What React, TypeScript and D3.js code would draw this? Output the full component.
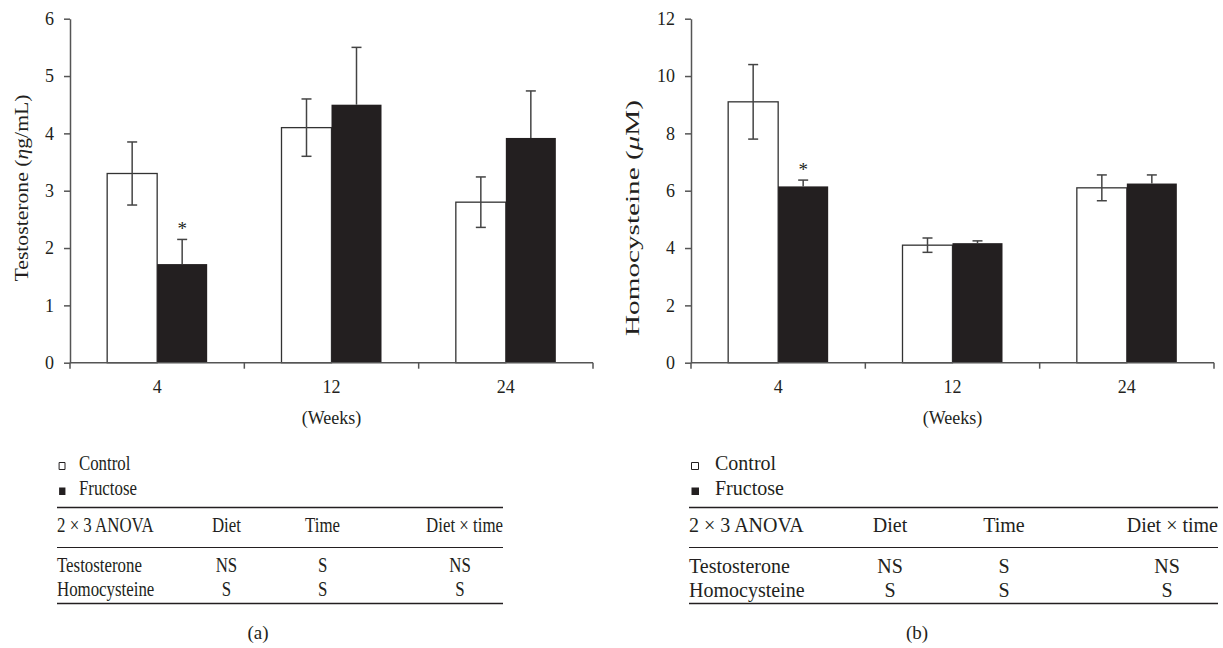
import React, { useEffect, useRef } from "react";
import * as d3 from "d3";

const weeks = ["4", "12", "24"];
const groups = ["Control", "Fructose"];

const testoControl = [3.3, 4.1, 2.8];
const testoControlSE = [0.55, 0.5, 0.44];
const testoFructose = [1.72, 4.5, 3.92];
const testoFructoseSE = [0.43, 1.0, 0.82];

const homoControl = [9.1, 4.1, 6.1];
const homoControlSE = [1.3, 0.25, 0.45];
const homoFructose = [6.15, 4.17, 6.25];
const homoFructoseSE = [0.22, 0.08, 0.3];

const testoTicks = [0, 1, 2, 3, 4, 5, 6];
const homoTicks = [0, 2, 4, 6, 8, 10, 12];

const tableHeader = ["2 × 3 ANOVA", "Diet", "Time", "Diet × time"];
const tableRows = [
  ["Testosterone", "NS", "S", "NS"],
  ["Homocysteine", "S", "S", "S"],
];

const FONT = "'Liberation Serif', 'Times New Roman', serif";
const INK = "#231f20";
const GREY = "#555";

function drawPanel(svg, opts) {
  const { x0, yMax, ticks, control, controlSE, fructose, fructoseSE, label, labelX, labelY, labelLen, tableX, tableScale, tag, tagX } = opts;
  const top = 18.7;
  const bottom = 362.7;
  const width = 523;

  const g = svg.append("g");
  const x = d3.scaleBand().domain(weeks).range([x0, x0 + width]);
  const bw = x.bandwidth();
  const x1 = d3.scaleBand().domain(groups).range([bw / 2 - 50, bw / 2 + 50]);
  const y = d3.scaleLinear().domain([0, yMax]).range([bottom, top]);

  const data = weeks.map((w, i) => ({
    w,
    vals: [
      { key: "Control", v: control[i], se: controlSE[i], up: false },
      { key: "Fructose", v: fructose[i], se: fructoseSE[i], up: true },
    ],
  }));

  const grp = g
    .selectAll("g.wk")
    .data(data)
    .enter()
    .append("g")
    .attr("transform", (d) => "translate(" + x(d.w) + ",0)");

  grp
    .selectAll("rect")
    .data((d) => d.vals)
    .enter()
    .append("rect")
    .attr("x", (d) => x1(d.key))
    .attr("width", x1.bandwidth())
    .attr("y", (d) => y(d.v))
    .attr("height", (d) => bottom - y(d.v))
    .attr("fill", (d) => (d.key === "Control" ? "#fff" : INK))
    .attr("stroke", (d) => (d.key === "Control" ? "#333" : "none"))
    .attr("stroke-width", 1.3);

  // error bars (fructose only upward)
  const mid = (d) => x1(d.key) + x1.bandwidth() / 2;
  const eb = grp
    .selectAll("g.err")
    .data((d) => d.vals)
    .enter()
    .append("g")
    .attr("stroke", "#444")
    .attr("stroke-width", 1.5);
  eb.append("line")
    .attr("x1", mid)
    .attr("x2", mid)
    .attr("y1", (d) => (d.up ? y(d.v) : y(d.v - d.se)))
    .attr("y2", (d) => y(d.v + d.se));
  eb.append("line")
    .attr("x1", (d) => mid(d) - 5)
    .attr("x2", (d) => mid(d) + 5)
    .attr("y1", (d) => y(d.v + d.se))
    .attr("y2", (d) => y(d.v + d.se));
  eb.filter((d) => !d.up)
    .append("line")
    .attr("x1", (d) => mid(d) - 5)
    .attr("x2", (d) => mid(d) + 5)
    .attr("y1", (d) => y(d.v - d.se))
    .attr("y2", (d) => y(d.v - d.se));

  // star over the week-4 fructose bar
  g.append("text")
    .attr("x", x(weeks[0]) + x1("Fructose") + x1.bandwidth() / 2)
    .attr("y", y(fructose[0] + fructoseSE[0]) - 4)
    .attr("text-anchor", "middle")
    .attr("font-family", FONT)
    .attr("font-size", 19)
    .attr("fill", INK)
    .text("*");

  // y axis
  const yAxis = g
    .append("g")
    .attr("transform", "translate(" + x0 + ",0)")
    .call(
      d3.axisLeft(y).tickValues(ticks).tickFormat(d3.format("d")).tickSize(6).tickSizeOuter(0).tickPadding(10)
    );
  yAxis.select(".domain").attr("stroke", GREY).attr("stroke-width", 1.5);
  yAxis.selectAll(".tick line").attr("stroke", GREY).attr("stroke-width", 1.5);
  yAxis.selectAll(".tick text").attr("font-family", FONT).attr("font-size", 18).attr("fill", INK);

  // x axis
  g.append("line")
    .attr("x1", x0)
    .attr("x2", x0 + width)
    .attr("y1", bottom)
    .attr("y2", bottom)
    .attr("stroke", GREY)
    .attr("stroke-width", 1.5);
  const bounds = weeks.map((w) => x(w)).concat([x0 + width]);
  g.selectAll("line.xt")
    .data(bounds)
    .enter()
    .append("line")
    .attr("x1", (d) => d)
    .attr("x2", (d) => d)
    .attr("y1", bottom)
    .attr("y2", bottom + 6)
    .attr("stroke", GREY)
    .attr("stroke-width", 1.5);
  g.selectAll("text.xl")
    .data(weeks)
    .enter()
    .append("text")
    .attr("x", (d) => x(d) + bw / 2)
    .attr("y", 393)
    .attr("text-anchor", "middle")
    .attr("font-family", FONT)
    .attr("font-size", 18)
    .attr("fill", INK)
    .text((d) => d);
  g.append("text")
    .attr("x", x0 + width / 2)
    .attr("y", 424)
    .attr("text-anchor", "middle")
    .attr("font-family", FONT)
    .attr("font-size", 18)
    .attr("fill", INK)
    .text("(Weeks)");

  // y label
  const yl = g
    .append("text")
    .attr("transform", "translate(" + labelX + "," + labelY + ") rotate(-90)")
    .attr("text-anchor", "middle")
    .attr("font-family", FONT)
    .attr("font-size", 19)
    .attr("textLength", labelLen)
    .attr("lengthAdjust", "spacingAndGlyphs")
    .attr("fill", INK);
  yl.append("tspan").text(label[0] + " (");
  yl.append("tspan").attr("font-style", "italic").text(label[1]);
  yl.append("tspan").text(label[2] + ")");

  // legend + ANOVA table, laid out at full width then squeezed by tableScale
  const t = g.append("g").attr("transform", "translate(" + tableX + ",0) scale(" + tableScale + ",1)");
  const tw = 529;
  t.append("rect")
    .attr("x", 2.5)
    .attr("y", 462.5)
    .attr("width", 7)
    .attr("height", 7)
    .attr("fill", "#fff")
    .attr("stroke", INK)
    .attr("stroke-width", 1)
    .attr("vector-effect", "non-scaling-stroke");
  t.append("rect").attr("x", 2.5).attr("y", 487.5).attr("width", 7.5).attr("height", 7.5).attr("fill", INK);
  t.selectAll("text.lg")
    .data(groups)
    .enter()
    .append("text")
    .attr("x", 26)
    .attr("y", (d, i) => 470 + i * 25)
    .attr("font-family", FONT)
    .attr("font-size", 20)
    .attr("fill", INK)
    .text((d) => d);

  [507.5, 547.5, 603.5].forEach((ly, i) => {
    t.append("line")
      .attr("x1", 0)
      .attr("x2", tw)
      .attr("y1", ly)
      .attr("y2", ly)
      .attr("stroke", INK)
      .attr("stroke-width", i === 1 ? 1.2 : 1.5);
  });
  const hx = [0, 201, 315, tw];
  const hAnchor = ["start", "middle", "middle", "end"];
  tableHeader.forEach((h, i) => {
    t.append("text")
      .attr("x", hx[i])
      .attr("y", 532)
      .attr("text-anchor", hAnchor[i])
      .attr("font-family", FONT)
      .attr("font-size", 20)
      .attr("fill", INK)
      .text(h);
  });
  const cx = [0, 201, 315, 478];
  tableRows.forEach((row, r) => {
    row.forEach((c, i) => {
      t.append("text")
        .attr("x", cx[i])
        .attr("y", 572.5 + r * 24)
        .attr("text-anchor", i === 0 ? "start" : "middle")
        .attr("font-family", FONT)
        .attr("font-size", 20)
        .attr("fill", INK)
        .text(c);
    });
  });

  g.append("text")
    .attr("x", tagX)
    .attr("y", 639)
    .attr("text-anchor", "middle")
    .attr("font-family", FONT)
    .attr("font-size", 19)
    .attr("fill", INK)
    .text(tag);
}

export default function App() {
  const ref = useRef(null);

  useEffect(() => {
    const svg = d3.select(ref.current);
    svg.selectAll("*").remove();
    drawPanel(svg, {
      x0: 70,
      yMax: 6,
      ticks: testoTicks,
      control: testoControl,
      controlSE: testoControlSE,
      fructose: testoFructose,
      fructoseSE: testoFructoseSE,
      label: ["Testosterone", "η", "g/mL"],
      labelX: 28,
      labelY: 188,
      labelLen: 187,
      tableX: 57,
      tableScale: 446 / 529,
      tag: "(a)",
      tagX: 258,
    });
    drawPanel(svg, {
      x0: 691,
      yMax: 12,
      ticks: homoTicks,
      control: homoControl,
      controlSE: homoControlSE,
      fructose: homoFructose,
      fructoseSE: homoFructoseSE,
      label: ["Homocysteine", "μ", "M"],
      labelX: 639,
      labelY: 218,
      labelLen: 236,
      tableX: 689,
      tableScale: 1,
      tag: "(b)",
      tagX: 917,
    });
  }, []);

  return (
    <svg
      ref={ref}
      width={1223}
      height={648}
      style={{ position: "absolute", left: 0, top: 0, background: "#fff" }}
    />
  );
}
